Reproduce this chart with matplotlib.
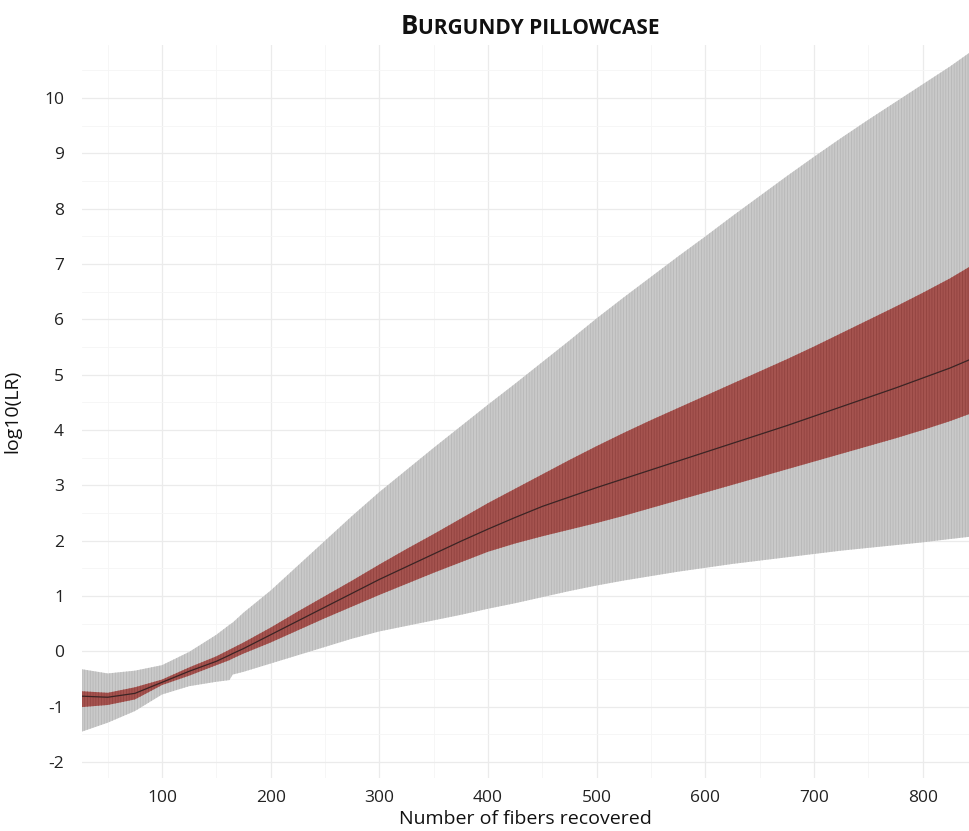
import matplotlib.pyplot as plt
from matplotlib.offsetbox import TextArea, HPacker, AnchoredOffsetbox
from matplotlib.ticker import MultipleLocator

plt.rcParams['font.family'] = ['Open Sans', 'DejaVu Sans']
plt.rcParams['hatch.linewidth'] = 0.5
plt.rcParams['axes.unicode_minus'] = False

# number of fibers recovered
fibers = [25, 50, 75, 100, 125, 150, 162, 165, 175, 200, 225, 250, 275, 300,
          325, 350, 375, 400, 425, 450, 475, 500, 525, 550, 575, 600, 625,
          650, 675, 700, 725, 750, 775, 800, 825, 843]

# outer interval (gray bars)
outer_hi = [-0.32, -0.40, -0.35, -0.25, -0.01, 0.30, 0.48, 0.52, 0.70, 1.10,
            1.55, 2.00, 2.45, 2.88, 3.28, 3.68, 4.07, 4.46, 4.84, 5.23, 5.62,
            6.02, 6.40, 6.77, 7.14, 7.50, 7.87, 8.23, 8.59, 8.94, 9.28, 9.61,
            9.93, 10.25, 10.57, 10.82]
outer_lo = [-1.46, -1.29, -1.08, -0.78, -0.63, -0.55, -0.52, -0.42, -0.37, -0.22,
            -0.07, 0.08, 0.23, 0.36, 0.46, 0.56, 0.66, 0.77, 0.87, 0.98, 1.09,
            1.19, 1.28, 1.36, 1.44, 1.51, 1.58, 1.64, 1.70, 1.76, 1.82, 1.87,
            1.92, 1.97, 2.03, 2.07]

# inner interval (red bars)
inner_hi = [-0.72, -0.75, -0.65, -0.51, -0.29, -0.09, 0.03, 0.06, 0.16, 0.43,
            0.72, 1.00, 1.28, 1.57, 1.85, 2.12, 2.40, 2.68, 2.94, 3.20, 3.46,
            3.71, 3.95, 4.18, 4.40, 4.62, 4.84, 5.06, 5.28, 5.51, 5.75, 5.99,
            6.23, 6.48, 6.74, 6.95]
inner_lo = [-1.01, -0.97, -0.87, -0.61, -0.44, -0.25, -0.16, -0.13, -0.04, 0.16,
            0.38, 0.60, 0.81, 1.02, 1.22, 1.42, 1.61, 1.80, 1.95, 2.08, 2.20,
            2.32, 2.45, 2.59, 2.73, 2.87, 3.01, 3.15, 3.29, 3.43, 3.57, 3.71,
            3.85, 4.00, 4.16, 4.29]

# median log10(LR)
median = [-0.81, -0.83, -0.76, -0.56, -0.36, -0.18, -0.07, -0.04, 0.05, 0.30,
          0.55, 0.80, 1.05, 1.30, 1.53, 1.76, 1.99, 2.21, 2.42, 2.62, 2.79,
          2.96, 3.12, 3.28, 3.44, 3.60, 3.76, 3.92, 4.08, 4.25, 4.42, 4.59,
          4.76, 4.94, 5.12, 5.27]

fig = plt.figure(figsize=(9.69, 8.31), dpi=100)
ax = fig.add_axes([82 / 969, 1 - 778 / 831, 887 / 969, 733 / 831])

ax.fill_between(fibers, outer_lo, outer_hi, facecolor='#c9c9c9',
                edgecolor='#b4b4b4', hatch='||||||', linewidth=0, zorder=2)
ax.fill_between(fibers, inner_lo, inner_hi, facecolor='#a5534f',
                edgecolor='#8e3f3c', hatch='||||||', linewidth=0, zorder=3)
ax.plot(fibers, median, color='#3b2424', lw=0.9, zorder=4)

ax.set_xlim(26.3, 842.6)
ax.set_ylim(-2.29, 10.96)
ax.xaxis.set_major_locator(MultipleLocator(100))
ax.xaxis.set_minor_locator(MultipleLocator(50))
ax.yaxis.set_major_locator(MultipleLocator(1))
ax.yaxis.set_minor_locator(MultipleLocator(0.5))
ax.grid(which='major', color='#ebebeb', lw=0.9)
ax.grid(which='minor', color='#f5f5f5', lw=0.6)
ax.set_axisbelow(True)
for s in ax.spines.values():
    s.set_visible(False)
ax.tick_params(which='both', length=0)
ax.tick_params(axis='y', pad=13, labelsize=12.5, labelcolor='#222222')
ax.tick_params(axis='x', pad=9, labelsize=12.5, labelcolor='#222222')

ax.set_xlabel('Number of fibers recovered', fontsize=14, color='#111111')
ax.xaxis.set_label_coords(0.5, -0.043)
ax.set_ylabel('log10(LR)', fontsize=14, color='#111111')
ax.yaxis.set_label_coords(-0.068, 0.5)

# small-caps title
big = TextArea('B', textprops=dict(size=18.5, weight='bold', color='#111111'))
small = TextArea('URGUNDY PILLOWCASE',
                 textprops=dict(size=15, weight='bold', color='#111111'))
box = HPacker(children=[big, small], align='baseline', pad=0, sep=0)
title = AnchoredOffsetbox(loc='center', child=box, frameon=False, pad=0,
                          bbox_to_anchor=(530 / 969, 1 - 26 / 831),
                          bbox_transform=fig.transFigure, borderpad=0)
fig.add_artist(title)

fig.savefig('out.png', dpi=100, facecolor='white')
